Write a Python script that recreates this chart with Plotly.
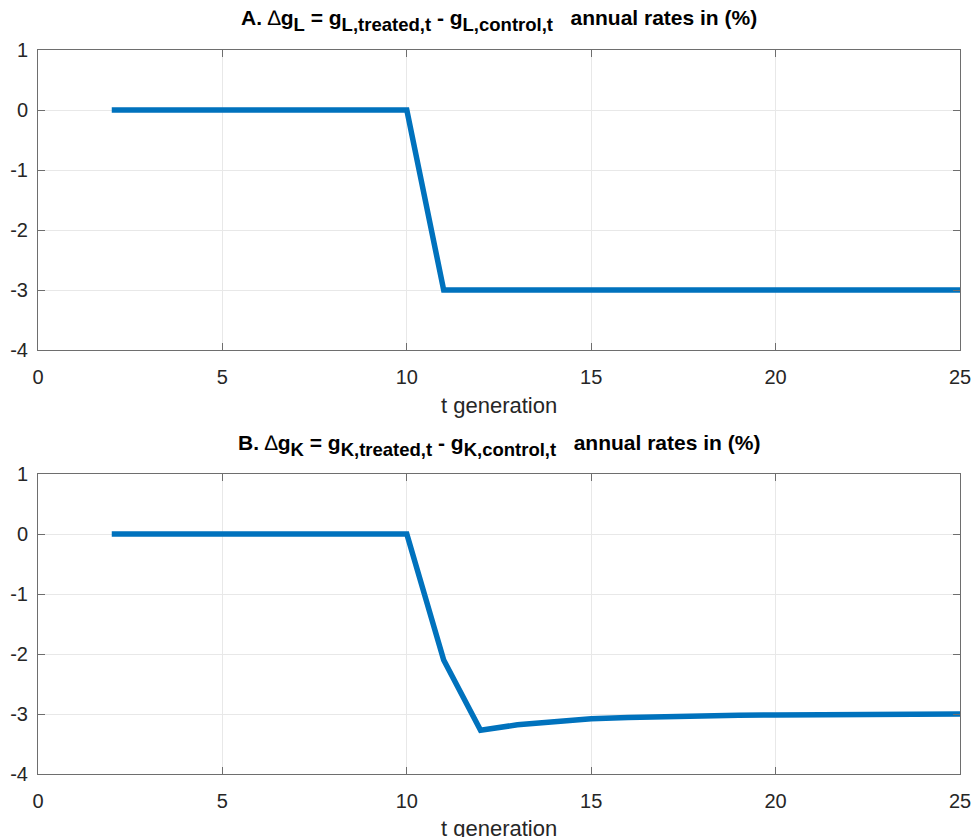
import plotly.graph_objects as go
from plotly.subplots import make_subplots

t_gen = [2, 3, 4, 5, 6, 7, 8, 9, 10, 11, 12, 13, 14, 15, 16, 17, 18, 19, 20, 21, 22, 23, 24, 25]
dgL = [0, 0, 0, 0, 0, 0, 0, 0, 0, -3, -3, -3, -3, -3, -3, -3, -3, -3, -3, -3, -3, -3, -3, -3]
dgK = [0, 0, 0, 0, 0, 0, 0, 0, 0, -2.1, -3.27, -3.18, -3.12, -3.08, -3.06, -3.04, -3.03, -3.02,
       -3.015, -3.01, -3.01, -3.005, -3.005, -3.0]

xticks = [0, 5, 10, 15, 20, 25]
yticks = [1, 0, -1, -2, -3, -4]

def sub(s):
    return '<span style="font-size:18.5px;baseline-shift:-6px">' + s + '</span>'

tri = '<span style="font-weight:normal">∆</span>'
title_a = ("<b>A. " + tri + "g" + sub("L") + " = g" + sub("L,treated,t") + " - g" + sub("L,control,t")
           + "   annual rates in (%)</b>")
title_b = ("<b>B. " + tri + "g" + sub("K") + " = g" + sub("K,treated,t") + " - g" + sub("K,control,t")
           + "   annual rates in (%)</b>")
xlabel = "t generation"

W, H = 973, 837
ml, mr, mt, mb = 38, 13, 50, 63
ph = H - mt - mb

def py(pix):
    # pixel y from top -> paper fraction
    return (H - pix - mb) / ph

fig = make_subplots(rows=2, cols=1)
blue = "#0072BD"
fig.add_trace(go.Scatter(x=t_gen, y=dgL, mode="lines", line=dict(color=blue, width=5.5), showlegend=False), row=1, col=1)
fig.add_trace(go.Scatter(x=t_gen, y=dgK, mode="lines", line=dict(color=blue, width=5.5), showlegend=False), row=2, col=1)

font = "Liberation Sans, Arial, Helvetica, sans-serif"
axcommon = dict(showline=True, linecolor="#6e6e6e", linewidth=1, mirror="ticks",
                ticks="inside", ticklen=7, tickcolor="#6e6e6e", automargin=False,
                showgrid=True, gridcolor="#e8e8e8", gridwidth=1, zeroline=False,
                tickfont=dict(family=font, size=20, color="#262626"))

dom_top = [py(350), 1]
dom_bot = [0, py(474)]

fig.update_xaxes(range=[0, 25], tickvals=xticks, ticktext=[str(v) for v in xticks],
                 ticklabelstandoff=9, **axcommon)
fig.update_yaxes(range=[-4, 1], tickvals=yticks, ticktext=[str(v) for v in yticks],
                 ticklabelstandoff=5, **axcommon)
fig.update_layout(yaxis=dict(domain=dom_top), yaxis2=dict(domain=dom_bot),
                  xaxis=dict(domain=[0, 1]), xaxis2=dict(domain=[0, 1]))

tfont = dict(family=font, size=21, color="#000000")
lfont = dict(family=font, size=22, color="#262626")
fig.add_annotation(text=title_a, x=0.5, xref="paper", y=py(20), yref="paper", yanchor="middle",
                   showarrow=False, font=tfont)
fig.add_annotation(text=title_b, x=0.5, xref="paper", y=py(445), yref="paper", yanchor="middle",
                   showarrow=False, font=tfont)
fig.add_annotation(text=xlabel, x=0.5, xref="paper", y=py(405), yref="paper", yanchor="middle",
                   showarrow=False, font=lfont)
fig.add_annotation(text=xlabel, x=0.5, xref="paper", y=py(828), yref="paper", yanchor="middle",
                   showarrow=False, font=lfont)

fig.update_layout(width=W, height=H, margin=dict(l=ml, r=mr, t=mt, b=mb, autoexpand=False),
                  paper_bgcolor="white", plot_bgcolor="white",
                  font=dict(family=font, color="#262626"))
fig.write_html("out.html", config={"displayModeBar": False},
               post_script="document.body.style.margin='0px';document.body.style.overflow='hidden';")
